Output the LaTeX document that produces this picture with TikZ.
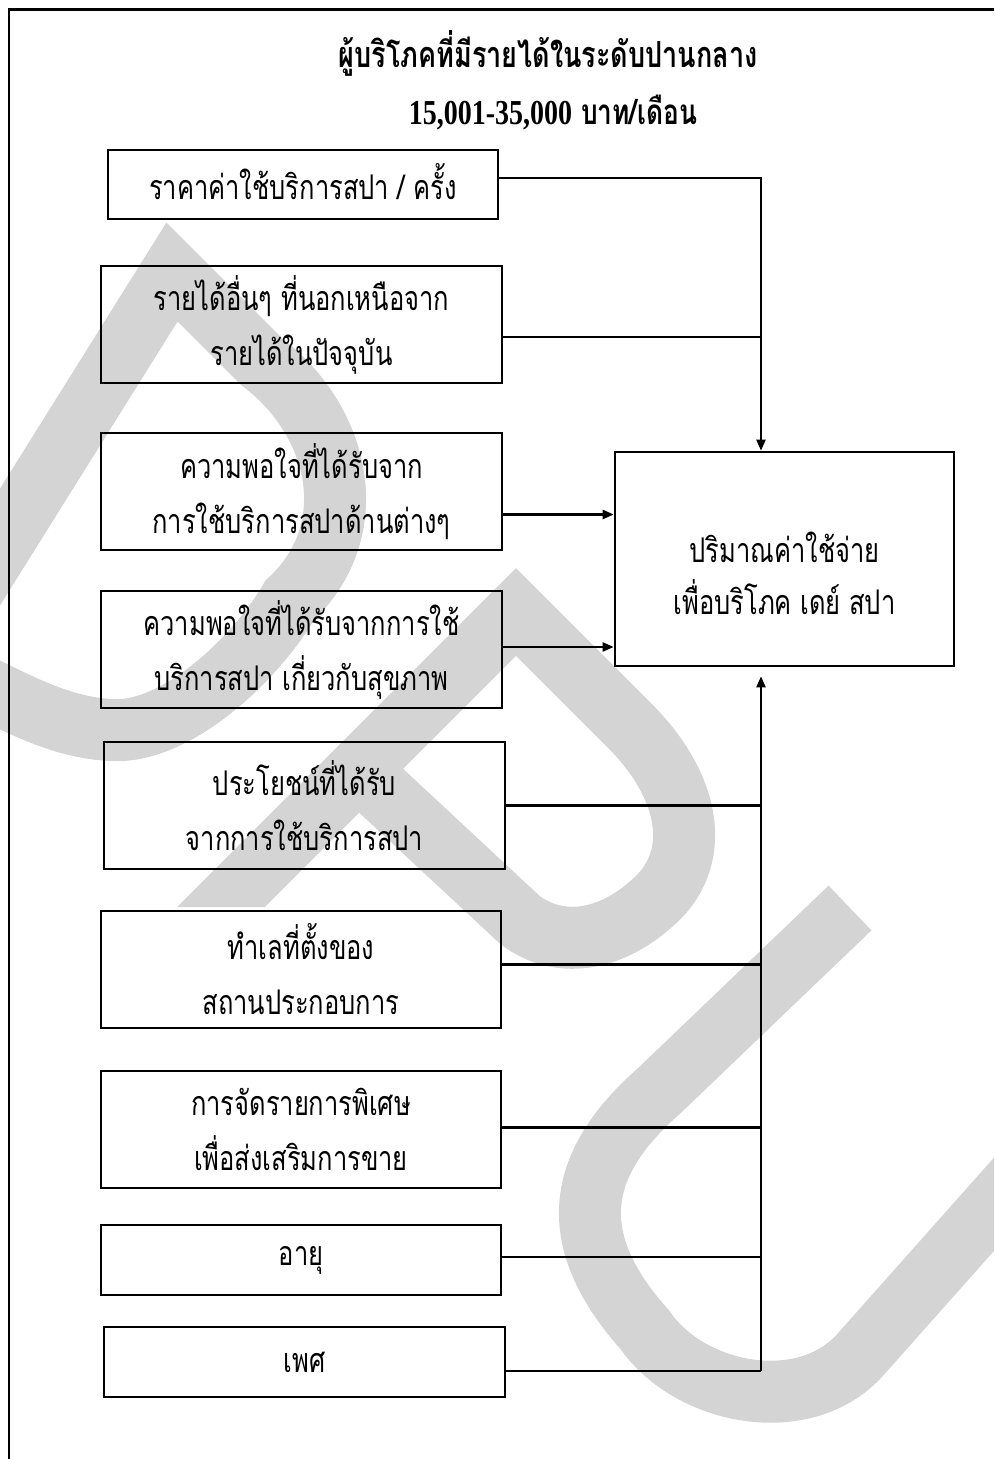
\documentclass[tikz,border=0pt]{standalone}
\usepackage{fontspec}
\usetikzlibrary{arrows.meta}
\newfontfamily\thai[Script=Thai,FakeStretch=0.75]{Loma}
\newfontfamily\numf[FakeStretch=0.8]{Liberation Serif}
\definecolor{wm}{RGB}{212,212,212}
\begin{document}
\begin{tikzpicture}[x=1pt,y=-1pt,
  box/.style={draw,line width=2.6pt,inner sep=0pt,align=center,
    font=\thai\fontsize{34}{55}\selectfont},
  boxtext/.style={inner sep=0pt,align=center,font=\thai\fontsize{34}{52}\selectfont},
  conn/.style={line width=2.2pt},
  arr/.style={conn,-{Triangle[length=11pt,width=9pt]}},
  wmk/.style={draw=wm,line width=62pt,line join=miter}]
\useasboundingbox (0,0) rectangle (994,1459);
% watermark
\begin{scope}
\clip (0,0) rectangle (994,1459);
% D
\draw[wmk] (-60,643) -- (172,272) -- (262,362)
  .. controls (340,421) and (365,530) .. (290,600)
  .. controls (255,660) and (175,735) .. (110,730)
  .. controls (60,727) and (20,705) .. (-40,675);
% U
\draw[wmk] (850,908) -- (660,1090)
  .. controls (580,1160) and (560,1235) .. (645,1330)
  .. controls (690,1395) and (804,1417) .. (860,1355) -- (1060,1130);
\end{scope}
\begin{scope}
\clip (0,0) -- (994,0) -- (994,1459) -- (300,1459) -- (300,907) -- (0,907) -- cycle;
% P
\draw[wmk] (150,978) -- (516,612) -- (630,726)
  .. controls (690,786) and (705,860) .. (650,905)
  .. controls (610,940) and (560,950) .. (520,920) -- (375,785);
\end{scope}
% frame
\draw[line width=2.8pt] (9,1459) -- (9,9.5) -- (994,9.5);
% titles
\node[font=\thai\bfseries\fontsize{36}{40}\selectfont] (title) at (548,53) {ผู้บริโภคที่มีรายได้ในระดับปานกลาง};
\node[font=\thai\bfseries\fontsize{35}{40}\selectfont] (sub) at (553,112) {{\numf\bfseries 15,001-35,000} บาท/เดือน};
% boxes
\node[box,minimum width=390pt,minimum height=69pt] (b1) at (303,184.5) {\raisebox{6pt}{ราคาค่าใช้บริการสปา / ครั้ง}};
\node[box,minimum width=401pt,minimum height=117pt] (b2) at (301.5,324.5) {รายได้อื่นๆ ที่นอกเหนือจาก\\รายได้ในปัจจุบัน};
\node[box,minimum width=401pt,minimum height=117pt] (b3) at (301.5,491.5) {ความพอใจที่ได้รับจาก\\การใช้บริการสปาด้านต่างๆ};
\node[box,minimum width=401pt,minimum height=117pt] (b4) at (301.5,649.5) {ความพอใจที่ได้รับจากการใช้\\บริการสปา เกี่ยวกับสุขภาพ};
\node[box,minimum width=401pt,minimum height=127pt] (b5) at (304.5,805.5) {ประโยชน์ที่ได้รับ\\จากการใช้บริการสปา};
\node[box,minimum width=400pt,minimum height=117pt] (b6) at (301,969.5) {ทำเลที่ตั้งของ\\สถานประกอบการ};
\node[box,minimum width=400pt,minimum height=117pt] (b7) at (301,1129.5) {การจัดรายการพิเศษ\\เพื่อส่งเสริมการขาย};
\node[box,minimum width=400pt,minimum height=70pt] (b8) at (301,1260) {อายุ};
\node[box,minimum width=401pt,minimum height=70pt] (b9) at (304.5,1362) {เพศ};
\node[box,minimum width=339pt,minimum height=214pt] (R) at (784.5,559) {};
\node[boxtext] (Rtext) at (R.center) [yshift=-14pt] {ปริมาณค่าใช้จ่าย\\เพื่อบริโภค เดย์ สปา};
\coordinate (vx) at (761,0);
% connectors
\draw[arr] ([yshift=6.5pt]b1.east) -| (vx |- R.north);
\draw[conn] ([yshift=-12.5pt]b2.east) -- ([yshift=-12.5pt]b2.east -| vx);
\draw[arr] ([yshift=-23pt]b3.east) -- ([yshift=-23pt]b3.east -| R.west);
\draw[arr] ([yshift=2.5pt]b4.east) -- ([yshift=2.5pt]b4.east -| R.west);
\draw[conn] (b5.east) -- (b5.east -| vx);
\draw[conn] ([yshift=5pt]b6.east) -- ([yshift=5pt]b6.east -| vx);
\draw[conn] ([yshift=2pt]b7.east) -- ([yshift=2pt]b7.east -| vx);
\draw[conn] ([yshift=3pt]b8.east) -- ([yshift=3pt]b8.east -| vx);
\draw[conn] ([yshift=-9pt]b9.east) -- ([yshift=-9pt]b9.east -| vx);
\draw[arr,shorten >=9pt] ([yshift=-9pt]b9.east -| vx) -- (vx |- R.south);
\end{tikzpicture}
\end{document}
